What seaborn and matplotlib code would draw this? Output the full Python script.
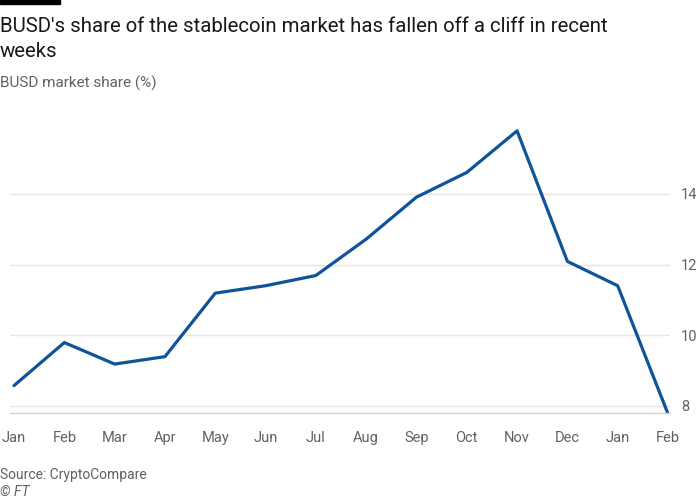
import pandas as pd
import matplotlib.pyplot as plt
import seaborn as sns

months = ['Jan', 'Feb', 'Mar', 'Apr', 'May', 'Jun', 'Jul',
          'Aug', 'Sep', 'Oct', 'Nov', 'Dec', 'Jan', 'Feb']
share = [8.57, 9.79, 9.18, 9.39, 11.19, 11.4, 11.69,
         12.72, 13.91, 14.61, 15.79, 12.09, 11.4, 7.77]
y_ticks = [8, 10, 12, 14]

sns.set_style('white')
plt.rcParams['font.family'] = ['Roboto', 'DejaVu Sans']

df = pd.DataFrame({'pos': range(len(months)), 'share': share})

fig = plt.figure(figsize=(7, 5), dpi=100)
ax = fig.add_axes([10 / 700, 1 - 413.3 / 500, 660 / 700, (413.3 - 110) / 500])

sns.lineplot(data=df, x='pos', y='share', ax=ax, color='#0f5499', linewidth=2.3)

ax.set_xlim(-0.08, 13.04)
ax.set_ylim(7.785, 16.38)
ax.set_xticks(df['pos'])
ax.set_xticklabels(months)
ax.set_yticks(y_ticks)
ax.yaxis.tick_right()
ax.set_xlabel('')
ax.set_ylabel('')
ax.grid(axis='y', color='#e9e4df', linewidth=1)
ax.grid(axis='x', visible=False)
for s in ['top', 'left', 'right']:
    ax.spines[s].set_visible(False)
ax.spines['bottom'].set_color('#d9d3ce')
ax.spines['bottom'].set_linewidth(1)
ax.tick_params(axis='x', length=9, width=1, color='#d9d3ce', labelsize=10.5,
               labelcolor='#66605c', pad=4)
ax.tick_params(axis='y', length=0, labelsize=10.5, labelcolor='#66605c', pad=8)

# FT-style header block
fig.patches.append(plt.Rectangle((0, 1 - 4 / 500), 60 / 700, 4 / 500,
                                 transform=fig.transFigure, color='black'))
fig.text(0, 1 - 32 / 500, "BUSD's share of the stablecoin market has fallen off a cliff in recent",
         fontsize=14.7, color='#1a1817', va='baseline', ha='left')
fig.text(0, 1 - 57 / 500, 'weeks', fontsize=14.7, color='#1a1817', va='baseline', ha='left')
fig.text(0, 1 - 88 / 500, 'BUSD market share (%)', fontsize=11, color='#66605c',
         va='baseline', ha='left')
fig.text(0, 1 - 479 / 500, 'Source: CryptoCompare', fontsize=10, color='#66605c',
         va='baseline', ha='left')
fig.text(0, 1 - 496 / 500, '© FT', fontsize=10, color='#66605c', style='italic',
         va='baseline', ha='left')

fig.savefig('out.png', dpi=100, facecolor='white')
